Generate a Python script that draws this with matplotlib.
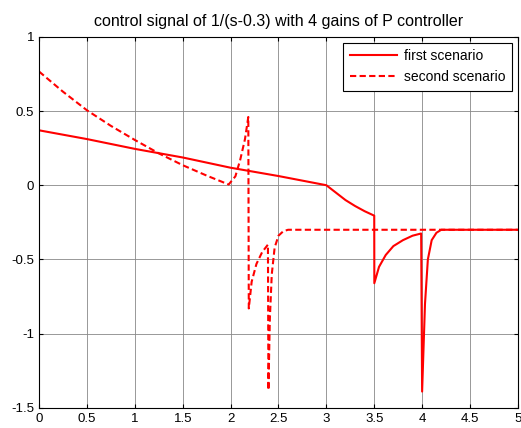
import matplotlib
matplotlib.use('Agg')
import matplotlib.pyplot as plt

plt.rcParams['font.family'] = ['Liberation Sans', 'DejaVu Sans']

# first scenario (solid)
t1 = [0, 0.5, 1.0, 1.5, 2.0, 2.5, 3.0, 3.1, 3.2, 3.3, 3.4, 3.5,
      3.501, 3.55, 3.62, 3.7, 3.8, 3.9, 3.99,
      4.0, 4.03, 4.06, 4.1, 4.15, 4.2, 5.0]
u1 = [0.37, 0.311, 0.245, 0.187, 0.118, 0.062, 0.0, -0.05, -0.10, -0.14, -0.175, -0.205,
      -0.66, -0.55, -0.47, -0.41, -0.37, -0.34, -0.325,
      -1.39, -0.8, -0.5, -0.37, -0.32, -0.30, -0.30]

# second scenario (dashed)
t2 = [0, 0.25, 0.5, 0.75, 1.0, 1.25, 1.5, 1.75, 1.98,
      2.05, 2.1, 2.15, 2.185,
      2.19, 2.22, 2.27, 2.33, 2.39,
      2.395, 2.41, 2.43, 2.46, 2.5, 2.55, 2.6, 5.0]
u2 = [0.766, 0.63, 0.505, 0.40, 0.305, 0.215, 0.135, 0.065, 0.005,
      0.06, 0.17, 0.31, 0.46,
      -0.83, -0.65, -0.53, -0.45, -0.40,
      -1.38, -0.9, -0.6, -0.42, -0.34, -0.31, -0.30, -0.30]

fig = plt.figure(figsize=(5.21, 4.28), dpi=100)
ax = fig.add_axes([0.075, 0.047, 0.919, 0.867])
ax.plot(t1, u1, color='red', lw=1.5, label='first scenario')
ax.plot(t2, u2, color='red', lw=1.5, ls=(0, (3, 1.6)), label='second scenario')

ax.set_xlim(0, 5)
ax.set_ylim(-1.5, 1)
ax.set_xticks([0, 0.5, 1, 1.5, 2, 2.5, 3, 3.5, 4, 4.5, 5])
ax.set_xticklabels(['0', '0.5', '1', '1.5', '2', '2.5', '3', '3.5', '4', '4.5', '5'])
ax.set_yticks([-1.5, -1, -0.5, 0, 0.5, 1])
ax.set_yticklabels(['-1.5', '-1', '-0.5', '0', '0.5', '1'])
ax.tick_params(direction='in', top=True, right=True, labelsize=9.5, length=3)
ax.grid(True, color='#888888', lw=0.6)
ax.set_title('control signal of 1/(s-0.3) with 4 gains of P controller', fontsize=11.5, pad=8)
leg = ax.legend(loc='upper right', fontsize=10, fancybox=False, framealpha=1,
                edgecolor='black', handlelength=3.4, handletextpad=0.5,
                labelspacing=0.5, borderpad=0.45, borderaxespad=0.45)
leg.get_frame().set_linewidth(0.8)

plt.savefig('out.png')
